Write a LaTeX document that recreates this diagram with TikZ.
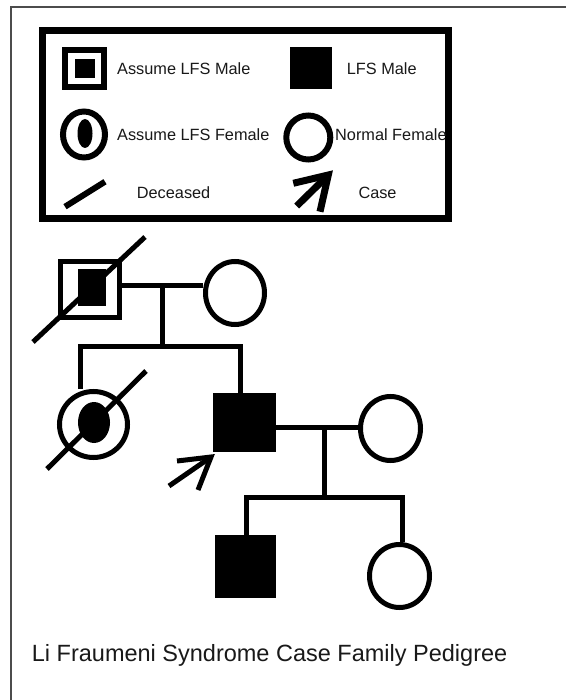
\documentclass[tikz,border=0pt]{standalone}
\usepackage{fontspec}
\setmainfont{Liberation Sans}
\usetikzlibrary{shapes.geometric}

\tikzset{
  filledsq/.style={rectangle, fill=black, draw=none, inner sep=0pt},
  ringed/.style={ellipse, draw=black, line width=5pt, inner sep=0pt},
  framed/.style={rectangle, draw=black, line width=5pt, inner sep=0pt},
  blob/.style={ellipse, fill=black, draw=none, inner sep=0pt},
  link/.style={draw=black, line width=5pt, line join=miter},
  slash/.style={draw=black, line width=5pt},
  pointer/.style={draw=black, line width=5pt, line join=miter},
  legtxt/.style={font=\fontsize{16.3}{20}\selectfont, anchor=base west, inner sep=0pt, text=black!90},
  titletxt/.style={font=\fontsize{23.5}{28}\selectfont, anchor=base west, inner sep=0pt, text=black!90},
}

\begin{document}
\begin{tikzpicture}[x=1pt,y=-1pt]
\useasboundingbox (0,0) rectangle (566,700);
\fill[white] (0,0) rectangle (566,700);

% outer page frame (top and left edges)
\draw[black!70, line width=1.5pt] (11,700) -- (11,7) -- (566,7);

% ---------------- legend ----------------
\node[draw=black, line width=7pt, rectangle, inner sep=0pt,
      minimum width=406pt, minimum height=188.5pt] (legend) at (245.8,124.3) {};

% assumed LFS male
\node[framed, line width=6pt, minimum width=38.5pt, minimum height=37.5pt] (lgAM) at (84.5,68.7) {};
\node[filledsq, minimum width=20pt, minimum height=19pt] (lgAMcore) at (85,68.8) {};
\node[legtxt] (lgAMtxt) at (117,74.2) {Assume LFS Male};

% LFS male
\node[filledsq, minimum width=42pt, minimum height=42pt] (lgM) at (310.8,68.2) {};
\node[legtxt] (lgMtxt) at (346.7,74.2) {LFS Male};

% assumed LFS female
\node[ringed, line width=6pt, minimum width=42pt, minimum height=46pt] (lgAF) at (84,134.5) {};
\node[blob, minimum width=15pt, minimum height=29pt] (lgAFcore) at (85,133.5) {};
\node[legtxt] (lgAFtxt) at (117,140.8) {Assume LFS Female};

% normal female
\node[ringed, line width=6pt, minimum width=44pt, minimum height=44pt] (lgF) at (308.3,137.5) {};
\node[legtxt] (lgFtxt) at (335,140.8) {Normal Female};

% deceased
\coordinate (lgDa) at (65,206.7);
\coordinate (lgDb) at (105,181.7);
\draw[slash, line width=6pt] (lgDa) -- (lgDb);
\node[legtxt] (lgDtxt) at (136.7,198.5) {Deceased};

% case pointer
\coordinate (lgCt) at (328.3,175);
\coordinate (lgCs) at (296.7,206);
\coordinate (lgCa) at (293.3,183.3);
\coordinate (lgCb) at (320,211.7);
\draw[pointer, line width=7pt] (lgCs) -- (lgCt);
\draw[pointer, line width=7pt] (lgCa) -- (lgCt) -- (lgCb);
\node[legtxt] (lgCtxt) at (358.3,198.5) {Case};

% ---------------- pedigree ----------------
% generation I
\node[framed, minimum width=59pt, minimum height=56pt] (gf) at (90,289.5) {};
\node[filledsq, minimum width=28pt, minimum height=37pt] (gfcore) at (92,287.5) {};
\node[ringed, minimum width=59pt, minimum height=63pt] (gm) at (235,293) {};
\coordinate (gfDa) at (33,342);
\coordinate (gfDb) at (145,237);
\draw[slash] (gfDa) -- (gfDb);

\coordinate (u1) at (162.5,285.5);
\coordinate (s1) at (162.5,346.5);
\coordinate (s1L) at (80.5,346.5);
\coordinate (s1R) at (240,346.5);
\draw[link] (gf.east |- u1) -- (gm.west |- u1);
\draw[link] (u1) -- (s1);

% generation II
\node[ringed, minimum width=68pt, minimum height=66pt] (aunt) at (93.5,424.5) {};
\node[blob, minimum width=32pt, minimum height=41pt] (auntcore) at (94,422.5) {};
\coordinate (auntDa) at (47,469);
\coordinate (auntDb) at (146,371);
\draw[slash] (auntDa) -- (auntDb);

\node[filledsq, minimum width=63pt, minimum height=59pt] (prob) at (244.5,422.5) {};
\node[ringed, minimum width=60pt, minimum height=64pt] (sp) at (390.5,428.5) {};

\draw[link] (s1L |- aunt.north) -- (s1L) -- (s1R) -- (s1R |- prob.north);

% proband pointer
\coordinate (pT) at (211,457);
\coordinate (pS) at (169,486);
\coordinate (pA) at (177,461);
\coordinate (pB) at (198,490);
\draw[pointer] (pS) -- (pT);
\draw[pointer] (pA) -- (pT) -- (pB);

\coordinate (u2) at (324.5,427.5);
\coordinate (s2) at (324.5,497);
\coordinate (s2L) at (246.5,497);
\coordinate (s2R) at (402.5,497);
\draw[link] (prob.east |- u2) -- (sp.west |- u2);
\draw[link] (u2) -- (s2);

% generation III
\node[filledsq, minimum width=61pt, minimum height=63pt] (son) at (245.5,566.5) {};
\node[ringed, minimum width=60pt, minimum height=63pt] (dau) at (399.5,576) {};
\draw[link] (s2L |- son.north) -- (s2L) -- (s2R) -- (s2R |- dau.north);

% caption
\node[titletxt] (title) at (31.7,661) {Li Fraumeni Syndrome Case Family Pedigree};
\end{tikzpicture}
\end{document}
